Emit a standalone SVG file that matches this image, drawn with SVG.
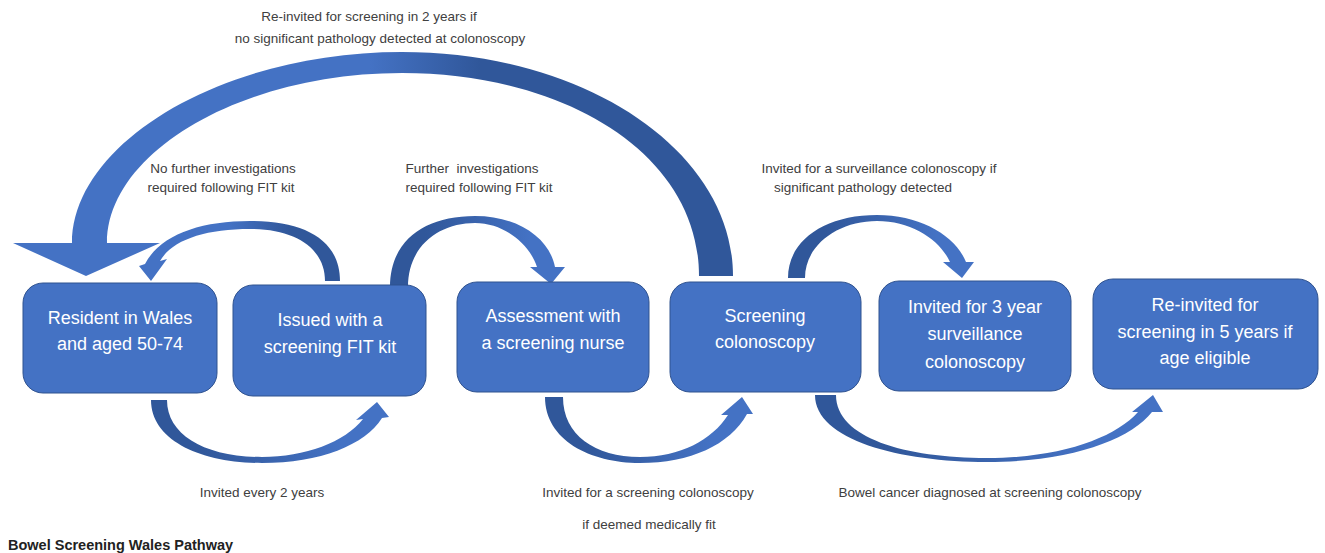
<svg xmlns="http://www.w3.org/2000/svg" width="1325" height="553" viewBox="0 0 1325 553">
<style>
.box{fill:#4472C4;stroke:#2F528F;stroke-width:1}
.bt{font-family:"Liberation Sans",Arial,sans-serif;font-size:18px;fill:#FFFFFF;text-anchor:middle}
.lb{font-family:"Liberation Sans",Arial,sans-serif;font-size:13.5px;fill:#404040;text-anchor:middle}
.title{font-family:"Liberation Sans",Arial,sans-serif;font-size:14.5px;font-weight:bold;fill:#222222}
</style>
<defs>
<linearGradient id="gRL" x1="0" y1="0" x2="1" y2="0"><stop offset="0.45" stop-color="#4472C4"/><stop offset="0.6" stop-color="#3A64AE"/><stop offset="0.75" stop-color="#30579A"/></linearGradient>
<linearGradient id="gLR" x1="0" y1="0" x2="1" y2="0"><stop offset="0.2" stop-color="#30579A"/><stop offset="0.5" stop-color="#3A64AE"/><stop offset="0.8" stop-color="#4472C4"/></linearGradient>
<linearGradient id="gBig" gradientUnits="userSpaceOnUse" x1="370" y1="0" x2="480" y2="0"><stop offset="0" stop-color="#4472C4"/><stop offset="1" stop-color="#30579A"/></linearGradient>
</defs>
<g id="connectors">
<path id="arrow-reinvite2" fill="url(#gBig)" d="M 733 276 C 733 151, 585 52, 402 52 C 222 52, 72 143, 72 243 L 13 243 L 86 276 L 160 243 L 107 243 C 107 152, 242 73, 402 73 C 562 73, 699 152, 699 276 Z"/>
<path id="arrow-nofurther" fill="url(#gRL)" d="M 340 281 C 340 240, 305 221, 250 221 C 200 221, 160 235, 145 264 L 139 266 L 151 281 L 167 259 L 160 261 C 172 240, 205 229, 250 229 C 295 229, 325 248, 325 281 Z"/>
<path id="arrow-further" fill="url(#gLR)" d="M 390 287 C 390 240, 425 216, 475 216 C 520 216, 550 240, 555 267 L 565 267 L 551 284 L 530 267 L 537 267 C 530 245, 505 223, 475 223 C 440 223, 408 245, 408 287 Z"/>
<path id="arrow-surveillance" fill="url(#gLR)" d="M 788 278 C 788 240, 825 215, 877 215 C 920 215, 955 235, 966 262 L 974 262 L 962 278 L 943 262 L 950 262 C 940 240, 912 221, 877 221 C 838 221, 805 245, 805 278 Z"/>
<path id="arrow-every2" fill="url(#gLR)" d="M 151 400 C 151 440, 200 463, 262 463 C 320 463, 365 445, 382 418 L 389 417 L 377 402 L 356 420 L 363 419 C 345 442, 305 457, 262 457 C 205 457, 167 435, 167 400 Z"/>
<path id="arrow-colonoscopy" fill="url(#gLR)" d="M 545 397 C 545 440, 590 463, 640 463 C 690 463, 730 445, 747 414 L 753 414 L 742 397 L 721 415 L 728 415 C 712 440, 680 457, 640 457 C 595 457, 563 435, 563 397 Z"/>
<path id="arrow-cancer" fill="url(#gLR)" d="M 815 395 C 815 440, 900 462, 987 462 C 1070 462, 1130 440, 1152 412 L 1163 412 L 1153 395 L 1132 412 L 1138 412 C 1115 438, 1060 458, 987 458 C 905 458, 836 438, 836 395 Z"/>
</g>
<g id="labels">
<text class="lb" x="369" y="21">Re-invited for screening in 2 years if</text>
<text class="lb" x="380" y="43">no significant pathology detected at colonoscopy</text>
<text class="lb" x="223" y="173">No further investigations</text>
<text class="lb" x="221" y="192">required following FIT kit</text>
<text class="lb" x="472" y="173" xml:space="preserve">Further  investigations</text>
<text class="lb" x="479" y="192">required following FIT kit</text>
<text class="lb" x="879" y="173">Invited for a surveillance colonoscopy if</text>
<text class="lb" x="863" y="192">significant pathology detected</text>
<text class="lb" x="262" y="497">Invited every 2 years</text>
<text class="lb" x="648" y="497">Invited for a screening colonoscopy</text>
<text class="lb" x="649" y="529">if deemed medically fit</text>
<text class="lb" x="990" y="497">Bowel cancer diagnosed at screening colonoscopy</text>
<text class="title" x="8" y="550">Bowel Screening Wales Pathway</text>
</g>
<g id="node-resident">
<rect class="box" x="23" y="283" width="194" height="110" rx="20"/>
<text class="bt" x="120" y="324">Resident in Wales</text>
<text class="bt" x="120" y="350">and aged 50-74</text>
</g>
<g id="node-fitkit">
<rect class="box" x="233" y="285" width="193" height="111" rx="20"/>
<text class="bt" x="330" y="326">Issued with a</text>
<text class="bt" x="330" y="353">screening FIT kit</text>
</g>
<g id="node-nurse">
<rect class="box" x="457" y="282" width="192" height="110" rx="20"/>
<text class="bt" x="553" y="322">Assessment with</text>
<text class="bt" x="553" y="349">a screening nurse</text>
</g>
<g id="node-colonoscopy">
<rect class="box" x="670" y="282" width="191" height="110" rx="20"/>
<text class="bt" x="765" y="322">Screening</text>
<text class="bt" x="765" y="348">colonoscopy</text>
</g>
<g id="node-surveillance">
<rect class="box" x="879" y="281" width="192" height="110" rx="20"/>
<text class="bt" x="975" y="313">Invited for 3 year</text>
<text class="bt" x="975" y="340">surveillance</text>
<text class="bt" x="975" y="368">colonoscopy</text>
</g>
<g id="node-reinvite5">
<rect class="box" x="1093" y="279" width="225" height="110" rx="20"/>
<text class="bt" x="1205" y="311">Re-invited for</text>
<text class="bt" x="1205" y="338">screening in 5 years if</text>
<text class="bt" x="1205" y="364">age eligible</text>
</g>
</svg>
